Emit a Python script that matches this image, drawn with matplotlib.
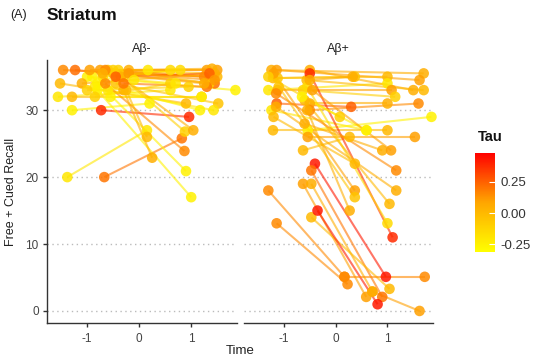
import matplotlib
matplotlib.use("Agg")
import matplotlib.pyplot as plt
import numpy as np
from matplotlib.colors import LinearSegmentedColormap, Normalize

plt.rcParams['font.family'] = ['Liberation Sans', 'DejaVu Sans']

# Aβ- group: baseline / follow-up time, recall score, tau
neg_t0 = [-1.46, -1.23, -1.52, -1.56, -1.29, -1.29, -1.38, -0.67, -0.73, -0.75,
          -0.60, -0.50, -0.40, -0.30, -0.85, -0.70, -0.55, -0.45, -0.60, -0.80,
          -0.50, -0.35, -0.65, -0.90, -0.80, -0.30, -0.25, -1.00, -0.95, -0.20,
          -0.65, -0.30, -0.85, -1.10, -0.45, -0.20, -0.70, -0.10, -1.00]
neg_y0 = [36, 36, 34, 32, 32, 30, 20, 20, 30, 36,
          36, 35.5, 36, 35, 33.5, 35, 32, 34, 33, 34,
          36, 35, 34, 35, 33, 33, 33, 35, 36, 36,
          36, 34, 32, 34, 35, 35.5, 35.5, 34.5, 33]
neg_t1 = [1.35, 1.45, 0.90, 0.60, 1.20, 0.20, 0.15, 0.82, 0.96, 1.30,
          1.40, 1.50, 1.35, 0.60, 0.17, 0.79, 1.20, 1.52, 1.43, 1.17,
          0.88, 1.04, 0.87, 0.90, 1.00, 0.25, 0.15, 1.85, 1.50, 1.40,
          1.25, 1.30, 0.60, 1.45, 1.35, 1.45, 1.25, 0.70, 0.95]
neg_y1 = [35, 34, 31, 33, 32, 31, 27, 25.8, 29, 36,
          35.5, 35, 34, 36, 36, 36, 32, 31, 30, 30,
          26.8, 27, 23.9, 20.9, 17, 22.9, 26, 33, 36, 36.2,
          35, 33.5, 34, 35.5, 35.5, 34.5, 34, 34, 33.5]
neg_tau = [0.15, 0.22, 0.00, -0.20, 0.00, -0.25, -0.20, 0.20, 0.38, 0.10,
           -0.05, 0.00, -0.10, -0.15, -0.20, -0.15, -0.25, -0.05, -0.20, -0.25,
           -0.10, 0.05, 0.15, -0.25, -0.25, 0.05, 0.00, -0.25, 0.10, 0.05,
           0.15, 0.20, -0.10, 0.05, 0.25, 0.12, 0.05, -0.20, -0.10]

# Aβ+ group
pos_t0 = [-1.24, -1.14, -1.21, -1.12, -1.30, -1.12, -1.14, -1.24, -1.21, -1.30,
          -1.14, -0.50, -0.56, -0.63, -0.50, -0.50, -0.54, -0.54, -0.63, -0.40,
          -0.47, -0.63, -0.47, -0.47, -0.35, -0.50, -0.55, -0.60, -1.20, -1.10,
          -0.55, -1.15, 0.71, 0.17, -1.30, -0.65, -1.20, -0.60, -0.45, -1.15,
          -0.50]
pos_y0 = [36, 36, 34.8, 34.8, 33, 33, 31, 30, 27, 18,
          13.1, 36, 34.5, 33, 31, 30, 27, 26, 24, 22,
          21, 19, 19, 14, 15, 35.5, 33.5, 31.5, 35.5, 33.5,
          30, 30.5, 2.9, 5.1, 35, 32, 29, 28, 33, 32.5,
          34.5]
pos_t1 = [1.70, 1.62, 1.00, 0.37, 1.00, 1.08, 0.30, 0.60, 1.00, 0.17,
          0.23, 1.50, 1.70, 1.15, 1.00, 1.60, 1.85, 1.53, 0.27, 0.97,
          0.90, 0.59, 0.71, 1.04, 0.81, 1.10, 1.00, 1.04, 0.37, 0.37,
          0.27, 1.17, 1.62, 1.72, 0.08, 0.59, 0.37, 0.90, 1.07, 1.17,
          0.33]
pos_y1 = [35.5, 34.5, 35, 35, 34, 33, 30.5, 27, 27, 5.1,
          4, 33, 33, 32, 31, 31, 29, 26, 26, 5.1,
          2.1, 2.1, 2.9, 3.3, 1.0, 11, 13.1, 16, 18, 17,
          15, 18, 0, 5.1, 29, 27, 22, 24, 24, 21,
          35]
pos_tau = [0.05, 0.10, 0.00, -0.05, -0.20, 0.10, 0.25, -0.20, 0.00, 0.15,
           0.15, 0.05, 0.00, -0.10, 0.05, 0.15, -0.25, 0.10, 0.00, 0.42,
           0.20, 0.10, 0.05, 0.00, 0.42, 0.38, -0.15, 0.00, 0.10, -0.05,
           0.05, 0.05, 0.10, 0.15, -0.10, -0.25, 0.00, 0.05, 0.10, 0.15,
           0.05]

panel_titles = ["Aβ-", "Aβ+"]
x_ticks = [-1, 0, 1]
y_ticks = [0, 10, 20, 30]
cbar_ticks = [-0.25, 0.0, 0.25]
cbar_labels = ["-0.25", "0.00", "0.25"]

cmap = LinearSegmentedColormap.from_list("tau", ["#FFFF00", "#FFA600", "#FF0000"])
norm = Normalize(vmin=-0.31, vmax=0.48)

fig = plt.figure(figsize=(5.45, 3.64), dpi=100)
W, H = 545, 364
def frac(x0, y0, x1, y1):
    return [x0 / W, 1 - y1 / H, (x1 - x0) / W, (y1 - y0) / H]

ax_l = fig.add_axes(frac(47, 60, 237, 323))
ax_r = fig.add_axes(frac(244, 60, 433, 323))

groups = [(neg_t0, neg_y0, neg_t1, neg_y1, neg_tau),
          (pos_t0, pos_y0, pos_t1, pos_y1, pos_tau)]

for ax, (t0, y0, t1, y1, tau), title in zip([ax_l, ax_r], groups, panel_titles):
    ax.set_xlim(-1.77, 1.88)
    ax.set_ylim(-1.8, 37.5)
    for yt in y_ticks:
        ax.axhline(yt, color="#bbbbbb", lw=1.0, ls=(0, (1, 2.5)), zorder=0)
    for a, b, c, d, v in zip(t0, y0, t1, y1, tau):
        col = cmap(norm(v))
        ax.plot([a, c], [b, d], color=col, lw=1.5, alpha=0.6, zorder=2,
                solid_capstyle="butt")
    ts = list(t0) + list(t1)
    ys = list(y0) + list(y1)
    cs = list(tau) + list(tau)
    ax.scatter(ts, ys, c=cs, cmap=cmap, norm=norm, s=58, alpha=0.85,
               edgecolors="none", zorder=3, clip_on=False)
    ax.set_xticks(x_ticks)
    ax.set_xticklabels([str(t) for t in x_ticks], fontsize=8.5, color="#444444")
    ax.tick_params(axis="x", length=3, width=1, color="#333333", pad=4)
    for s in ["top", "right"]:
        ax.spines[s].set_visible(False)
    ax.spines["bottom"].set_linewidth(1.0)
    ax.spines["bottom"].set_color("#333333")
    ax.text(0.5, 1.02, title, transform=ax.transAxes, ha="center", va="bottom",
            fontsize=9, color="#222222")

ax_l.set_yticks(y_ticks)
ax_l.set_yticklabels([str(t) for t in y_ticks], fontsize=8.5, color="#444444")
ax_l.tick_params(axis="y", length=3, width=1, color="#333333", pad=3)
ax_l.spines["left"].set_linewidth(1.0)
ax_l.spines["left"].set_color("#333333")
ax_r.spines["left"].set_visible(False)
ax_r.set_yticks([])
ax_l.set_ylabel("Free + Cued Recall", fontsize=9, color="#222222", labelpad=6)

fig.text(240 / W, 1 - 351 / H, "Time", ha="center", va="center", fontsize=9.5,
         color="#222222")
fig.text(10 / W, 1 - 15 / H, "(A)", ha="left", va="center", fontsize=9,
         color="#222222")
fig.text(47 / W, 1 - 15 / H, "Striatum", ha="left", va="center", fontsize=12.5,
         fontweight="bold", color="#111111")

# colour bar for tau
cax = fig.add_axes(frac(475, 153, 495, 252))
sm = plt.cm.ScalarMappable(norm=norm, cmap=cmap)
cb = fig.colorbar(sm, cax=cax)
cb.outline.set_visible(False)
cb.set_ticks(cbar_ticks)
cb.set_ticklabels(cbar_labels)
cax.tick_params(length=4, width=0.8, color="white", direction="in", labelsize=9.5,
                labelcolor="#333333", pad=4)
fig.text(478 / W, 1 - 137 / H, "Tau", ha="left", va="center", fontsize=10.5,
         fontweight="bold", color="#111111")

fig.savefig("out.png", dpi=100)
